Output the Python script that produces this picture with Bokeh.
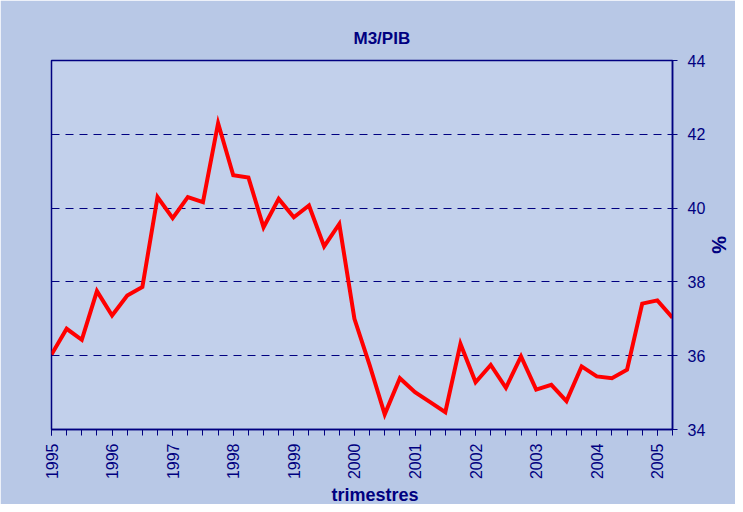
from bokeh.plotting import figure
from bokeh.models import Range1d, FixedTicker, SingleIntervalTicker, Title
from bokeh.embed import file_html
from bokeh.resources import INLINE
import math

# quarterly positions (1995 Q1 .. 2005 Q2)
quarters = [1995.0, 1995.25, 1995.5, 1995.75,
            1996.0, 1996.25, 1996.5, 1996.75,
            1997.0, 1997.25, 1997.5, 1997.75,
            1998.0, 1998.25, 1998.5, 1998.75,
            1999.0, 1999.25, 1999.5, 1999.75,
            2000.0, 2000.25, 2000.5, 2000.75,
            2001.0, 2001.25, 2001.5, 2001.75,
            2002.0, 2002.25, 2002.5, 2002.75,
            2003.0, 2003.25, 2003.5, 2003.75,
            2004.0, 2004.25, 2004.5, 2004.75,
            2005.0, 2005.25]

m3_pib = [36.03, 36.73, 36.43, 37.75,
          37.09, 37.63, 37.86, 40.30,
          39.73, 40.30, 40.16, 42.30,
          40.89, 40.83, 39.48, 40.25,
          39.75, 40.07, 38.96, 39.57,
          37.00, 35.75, 34.41, 35.39,
          35.01, 34.74, 34.47, 36.32,
          35.28, 35.75, 35.13, 35.98,
          35.08, 35.21, 34.77, 35.71,
          35.44, 35.39, 35.62, 37.41,
          37.50, 37.03]

y_ticks = [34, 36, 38, 40, 42, 44]
grid_ticks = [36, 38, 40, 42]

TITLE = "M3/PIB"
X_LABEL = "trimestres"
Y_LABEL = "%"

NAVY = "#000080"
BG = "#B8C8E6"
PLOT_BG = "#C2D0EB"
FONT = "Liberation Sans"

p = figure(width=735, height=504, output_backend="svg", toolbar_location=None,
           x_range=Range1d(1995, 2005.25), y_range=Range1d(34, 44),
           y_axis_location="right",
           min_border_left=51, min_border_right=63, min_border_top=60, min_border_bottom=75)

p.background_fill_color = PLOT_BG
p.border_fill_color = BG
p.outline_line_color = NAVY
p.outline_line_width = 1.5

# title
p.title.text = TITLE
p.title.text_font = FONT
p.title.text_font_size = "17px"
p.title.text_font_style = "bold"
p.title.text_color = NAVY
p.title.align = "left"
p.title.offset = 302
p.title.standoff = 26

# x axis
xa = p.xaxis[0]
xa.ticker = SingleIntervalTicker(interval=1, num_minor_ticks=4)
xa.major_label_orientation = math.pi / 2
xa.major_label_text_font = FONT
xa.major_label_text_font_size = "16px"
xa.major_label_text_color = NAVY
xa.major_tick_in = 0
xa.major_tick_out = 6
xa.minor_tick_in = 0
xa.minor_tick_out = 6
xa.major_tick_line_color = NAVY
xa.minor_tick_line_color = NAVY
xa.axis_line_color = NAVY
xa.axis_line_width = 1.5
xa.major_label_standoff = 8

p.add_layout(Title(text=X_LABEL, align="left", offset=280,
                   text_font=FONT, text_font_size="18px", text_font_style="bold",
                   text_color=NAVY, text_line_height=1.0, standoff=0), "below")

# y axis (right)
ya = p.yaxis[0]
ya.ticker = FixedTicker(ticks=y_ticks)
ya.major_label_text_font = FONT
ya.major_label_text_font_size = "16px"
ya.major_label_text_color = NAVY
ya.major_tick_in = 0
ya.major_tick_out = 5
ya.minor_tick_out = 0
ya.minor_tick_in = 0
ya.major_tick_line_color = NAVY
ya.axis_line_color = NAVY
ya.axis_line_width = 1.5
ya.major_label_standoff = 10
ya.axis_label = Y_LABEL
ya.axis_label_text_font = FONT
ya.axis_label_text_font_size = "20px"
ya.axis_label_text_font_style = "bold"
ya.axis_label_text_color = NAVY
ya.axis_label_standoff = 0

# grid
p.xgrid.visible = False
p.ygrid.ticker = FixedTicker(ticks=grid_ticks)
p.ygrid.grid_line_color = NAVY
p.ygrid.grid_line_dash = "8 6"
p.ygrid.grid_line_width = 1

p.line(quarters, m3_pib, line_color="#FF0000", line_width=4, line_join="miter")

open("out.html", "w").write(file_html(p, INLINE))
